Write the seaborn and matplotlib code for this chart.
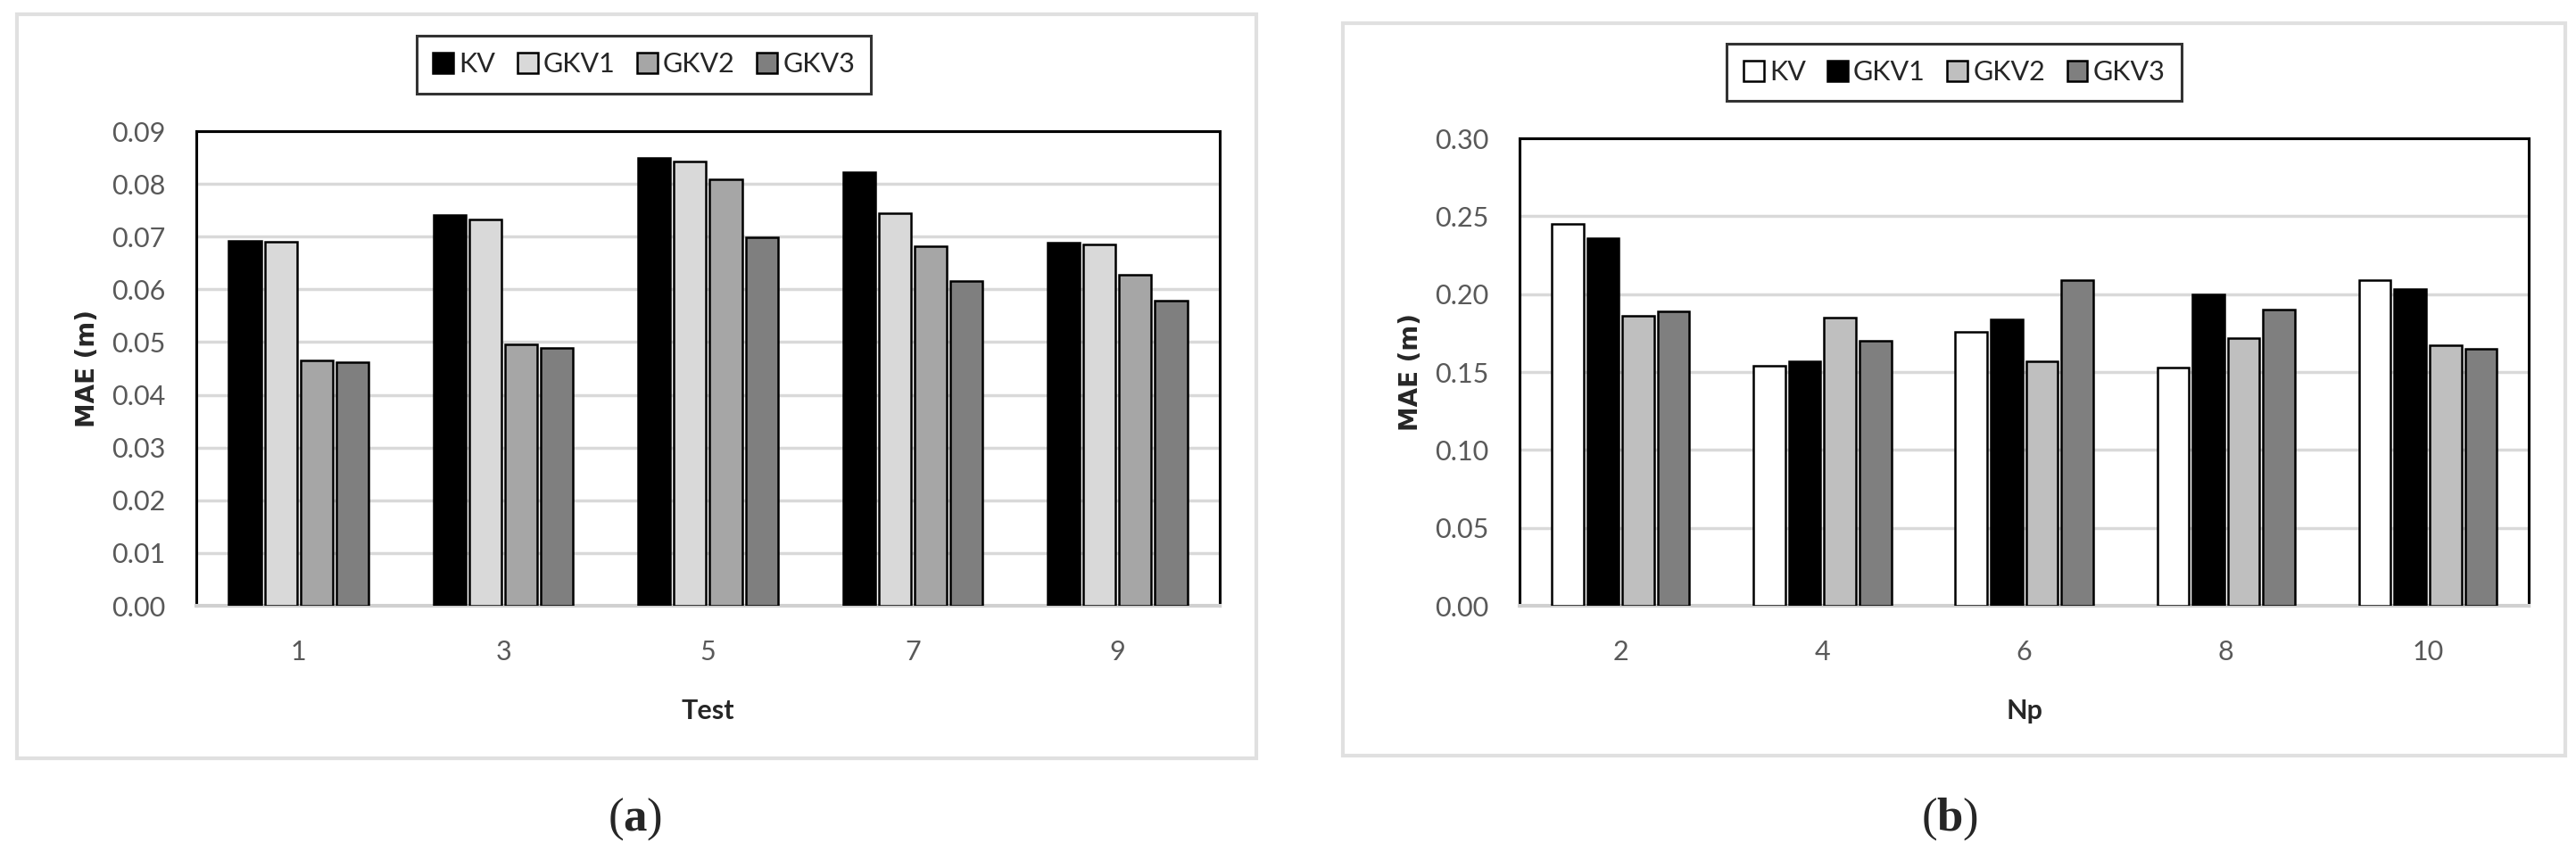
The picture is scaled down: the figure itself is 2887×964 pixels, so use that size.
import pandas as pd
import numpy as np
import matplotlib
matplotlib.use('Agg')
import matplotlib.pyplot as plt
from matplotlib.patches import Rectangle
import seaborn as sns

# data
methods = ['KV', 'GKV1', 'GKV2', 'GKV3']

tests = ['1', '3', '5', '7', '9']
kv_a = [0.0692, 0.0741, 0.0849, 0.0822, 0.0689]
gkv1_a = [0.0690, 0.0733, 0.0842, 0.0744, 0.0685]
gkv2_a = [0.0465, 0.0495, 0.0809, 0.0681, 0.0627]
gkv3_a = [0.0462, 0.0489, 0.0698, 0.0616, 0.0578]

nps = ['2', '4', '6', '8', '10']
kv_b = [0.245, 0.154, 0.176, 0.153, 0.209]
gkv1_b = [0.236, 0.157, 0.184, 0.200, 0.203]
gkv2_b = [0.186, 0.185, 0.157, 0.172, 0.167]
gkv3_b = [0.189, 0.170, 0.209, 0.190, 0.165]

colors_a = ['#000000', '#d9d9d9', '#a6a6a6', '#7f7f7f']
colors_b = ['#ffffff', '#000000', '#bfbfbf', '#7f7f7f']


def long_df(cats, series, xname):
    rows = []
    for m, vals in zip(methods, series):
        for c, v in zip(cats, vals):
            rows.append({xname: c, 'Method': m, 'MAE': v})
    return pd.DataFrame(rows)


df_a = long_df(tests, [kv_a, gkv1_a, gkv2_a, gkv3_a], 'Test')
df_b = long_df(nps, [kv_b, gkv1_b, gkv2_b, gkv3_b], 'Np')

sns.set_style('white')
plt.rcParams['font.family'] = ['Lato', 'DejaVu Sans']
plt.rcParams['mathtext.fontset'] = 'custom'
plt.rcParams['mathtext.rm'] = 'Liberation Serif'
plt.rcParams['mathtext.bf'] = 'Liberation Serif:bold'

fig = plt.figure(figsize=(28.87, 9.64), dpi=100)

# outer light-grey frames round each chart
fig.patches.append(Rectangle((0.0066, 0.1183), 0.4811, 0.8651, transform=fig.transFigure,
                             fill=False, edgecolor='#e0e0e0', lw=3))
fig.patches.append(Rectangle((0.5213, 0.1214), 0.4745, 0.8517, transform=fig.transFigure,
                             fill=False, edgecolor='#e0e0e0', lw=3))

ax_a = fig.add_axes([0.0762, 0.2956, 0.3973, 0.5519])
ax_b = fig.add_axes([0.5899, 0.2956, 0.3918, 0.5436])


def draw(ax, df, xname, colors, ymax, step, leg_xy, cats):
    sns.barplot(data=df, x=xname, y='MAE', hue='Method', order=cats, hue_order=methods,
                palette=colors, width=0.7, gap=0.1, edgecolor='black', linewidth=1.8,
                ax=ax, zorder=3)
    ax.set_xlim(-0.5, len(cats) - 0.5)
    ax.set_ylim(0, ymax)
    ax.set_yticks(np.arange(0, ymax + step / 2, step))
    ax.yaxis.set_major_formatter(matplotlib.ticker.FormatStrFormatter('%.2f'))
    ax.grid(axis='y', color='#d9d9d9', lw=2.5, zorder=0)
    ax.set_axisbelow(True)
    for s in ['top', 'left', 'right']:
        ax.spines[s].set_visible(True)
        ax.spines[s].set_color('black')
        ax.spines[s].set_linewidth(2.2)
    ax.spines['bottom'].set_color('#d0d0d0')
    ax.spines['bottom'].set_linewidth(3)
    ax.tick_params(axis='both', length=0, labelsize=22, labelcolor='#595959')
    ax.tick_params(axis='y', pad=25)
    ax.tick_params(axis='x', pad=27)
    ax.set_ylabel('MAE (m)', fontsize=20, fontweight='bold', family='DejaVu Sans', labelpad=9)
    ax.set_xlabel(xname, fontsize=22, fontweight='bold', labelpad=28)
    handles, labels = ax.get_legend_handles_labels()
    ax.get_legend().remove()
    leg = ax.legend(handles, labels, loc='center', bbox_to_anchor=leg_xy,
                    bbox_transform=fig.transFigure, ncol=4, fontsize=22,
                    frameon=True, fancybox=False, handlelength=0.75, handleheight=0.75,
                    handletextpad=0.2, columnspacing=0.8, borderpad=0.6)
    leg.get_frame().set_edgecolor('black')
    leg.get_frame().set_linewidth(2.2)


draw(ax_a, df_a, 'Test', colors_a, 0.09, 0.01, (0.250, 0.925), tests)
draw(ax_b, df_b, 'Np', colors_b, 0.30, 0.05, (0.7586, 0.916), nps)

fig.text(0.2466, 0.0477, r'($\mathbf{a}$)', fontsize=38, family='Liberation Serif',
         ha='center', va='center')
fig.text(0.7568, 0.0477, r'($\mathbf{b}$)', fontsize=38, family='Liberation Serif',
         ha='center', va='center')

plt.savefig('out.png', dpi=100)
